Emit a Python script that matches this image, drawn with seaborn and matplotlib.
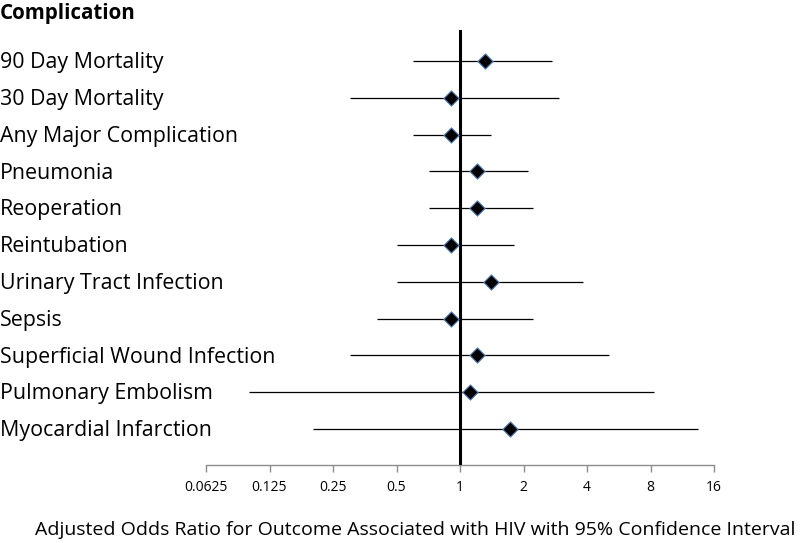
import matplotlib
matplotlib.use("Agg")
import matplotlib.pyplot as plt
import matplotlib.transforms as mtransforms
import seaborn as sns
import pandas as pd

complications = ["90 Day Mortality", "30 Day Mortality", "Any Major Complication",
                 "Pneumonia", "Reoperation", "Reintubation", "Urinary Tract Infection",
                 "Sepsis", "Superficial Wound Infection", "Pulmonary Embolism",
                 "Myocardial Infarction"]
odds_ratio = [1.31, 0.91, 0.91, 1.20, 1.20, 0.91, 1.41, 0.91, 1.20, 1.11, 1.72]
ci_low = [0.60, 0.30, 0.60, 0.71, 0.71, 0.50, 0.50, 0.405, 0.30, 0.10, 0.20]
ci_high = [2.73, 2.94, 1.41, 2.11, 2.22, 1.81, 3.85, 2.22, 5.06, 8.32, 13.5]
tick_values = [0.0625, 0.125, 0.25, 0.5, 1, 2, 4, 8, 16]
tick_labels = ["0.0625", "0.125", "0.25", "0.5", "1", "2", "4", "8", "16"]

df = pd.DataFrame({"complication": complications, "or": odds_ratio,
                   "lo": ci_low, "hi": ci_high})
df["row"] = range(len(df))

sns.set_theme(style="white")
plt.rcParams["font.family"] = ["Open Sans", "DejaVu Sans"]

fig = plt.figure(figsize=(8, 5.43), dpi=100)
ax = fig.add_axes([0.2575, 0.1436, 0.635, 0.8012])

ax.hlines(df["row"], df["lo"], df["hi"], color="black", linewidth=0.9, zorder=2)
ax.axvline(1, color="black", linewidth=2.2, zorder=3)
sns.scatterplot(data=df, x="or", y="row", marker="D", s=60, color="black",
                edgecolor="#4f81bd", linewidth=0.8, ax=ax, zorder=4, legend=False)

ax.set_xscale("log", base=2)
ax.set_xlim(0.0625, 16)
ax.set_ylim(10.98, -0.84)
ax.set_xticks(tick_values)
ax.set_xticklabels(tick_labels, fontsize=10)
ax.minorticks_off()
ax.set_yticks([])
ax.set_xlabel("")
ax.set_ylabel("")
for s in ["top", "right", "left"]:
    ax.spines[s].set_visible(False)
ax.spines["bottom"].set_color("#8c8c8c")
ax.spines["bottom"].set_linewidth(1.0)
ax.tick_params(axis="x", direction="out", length=5, width=1.0, color="#8c8c8c",
               pad=6, bottom=True, labelcolor="black")

trans = mtransforms.blended_transform_factory(fig.transFigure, ax.transData)
for r, name in zip(df["row"], df["complication"]):
    ax.text(0.0, r + 0.05, name, transform=trans, ha="left", va="center",
            fontsize=15.4, color="black", clip_on=False)

fig.text(0.0, 1 - 13 / 543, "Complication", ha="left", va="center",
         fontsize=14.8, fontweight="bold", color="black")
fig.text(0.519, 1 - 530 / 543,
         "Adjusted Odds Ratio for Outcome Associated with HIV with 95% Confidence Interval",
         ha="center", va="center", fontsize=14, color="black")

fig.savefig("out.png", dpi=100)
